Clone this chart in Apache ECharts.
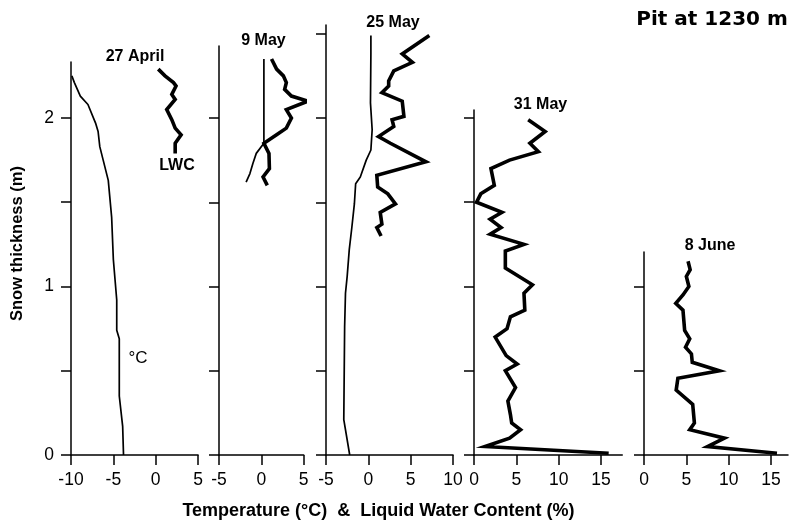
<!DOCTYPE html>
<html><head><meta charset="utf-8">
<script src="https://cdn.jsdelivr.net/npm/echarts@6/dist/echarts.min.js"></script>
<style>html,body{margin:0;padding:0;background:#fff}#c{width:790px;height:520px}</style>
</head><body><div id="c"></div>
<script>
// ---- DATA: [value, snow depth (m)] ----
const apr27Temp = [[-9.9,2.25],[-9.6,2.21],[-8.9,2.13],[-8.0,2.08],[-7.1,1.97],[-6.8,1.92],[-6.6,1.83],[-6.2,1.75],[-5.6,1.63],[-5.2,1.41],[-5.0,1.16],[-4.8,1.04],[-4.6,0.92],[-4.6,0.74],[-4.3,0.69],[-4.3,0.35],[-3.9,0.17],[-3.8,0]];
const apr27LWC = [[0.3,2.29],[1.1,2.25],[2.1,2.21],[2.4,2.19],[1.9,2.14],[2.3,2.11],[1.3,2.05],[1.9,1.99],[2.3,1.94],[3.0,1.90],[2.3,1.85],[2.3,1.79]];
const may9Temp = [[0.3,2.35],[0.3,1.85],[-0.6,1.79],[-1.0,1.73],[-1.35,1.67],[-1.8,1.62]];
const may9LWC = [[1.2,2.35],[1.8,2.29],[2.6,2.25],[2.95,2.21],[2.75,2.17],[3.55,2.13],[5.5,2.10],[2.95,2.05],[3.55,2.00],[2.95,1.94],[1.8,1.90],[0.3,1.85],[0.9,1.79],[0.95,1.70],[0.2,1.65],[0.7,1.60]];
const may25Temp = [[0.3,2.49],[0.3,2.38],[0.25,2.09],[0.45,1.93],[0.3,1.81],[-0.25,1.75],[-0.95,1.65],[-1.5,1.61],[-1.65,1.49],[-1.95,1.35],[-2.25,1.22],[-2.5,1.06],[-2.7,0.96],[-2.8,0.76],[-2.9,0.21],[-2.2,0]];
const may25LWC = [[7.2,2.49],[4.0,2.38],[5.2,2.33],[3.0,2.28],[2.4,2.22],[2.4,2.19],[1.6,2.15],[4.0,2.10],[4.2,2.01],[2.8,1.99],[3.0,1.95],[1.2,1.89],[2.6,1.85],[6.8,1.74],[1.0,1.66],[1.1,1.59],[2.3,1.55],[3.2,1.49],[1.4,1.44],[1.6,1.37],[1.0,1.35],[1.5,1.30]];
const may31LWC = [[6.4,1.99],[8.4,1.92],[6.6,1.85],[7.6,1.80],[4.2,1.75],[2.0,1.70],[2.4,1.60],[0.8,1.55],[0.3,1.50],[3.3,1.44],[1.9,1.40],[3.2,1.35],[1.9,1.31],[5.9,1.25],[3.7,1.21],[3.7,1.11],[6.9,1.01],[5.9,0.96],[6.0,0.86],[4.3,0.82],[3.9,0.75],[2.5,0.70],[3.8,0.59],[5.1,0.54],[3.7,0.50],[4.9,0.40],[4.0,0.32],[4.3,0.24],[4.45,0.19],[5.5,0.15],[4.2,0.10],[1.3,0.05],[15.9,0.01]];
const jun8LWC = [[5.2,1.15],[5.45,1.10],[5.0,1.06],[5.3,1.00],[4.6,0.95],[3.75,0.90],[4.6,0.86],[4.8,0.74],[5.4,0.69],[4.9,0.64],[5.6,0.60],[5.7,0.55],[8.9,0.50],[4.0,0.455],[3.8,0.385],[5.75,0.30],[5.95,0.19],[5.4,0.15],[9.5,0.10],[7.5,0.05],[15.7,0.01]];

const panelNames = ['27 April','9 May','25 May','31 May','8 June'];
const tempSeries = [apr27Temp, may9Temp, may25Temp, null, null];
const lwcSeries = [apr27LWC, may9LWC, may25LWC, may31LWC, jun8LWC];
const xMinValues = [-10,-5,-5,0,0];
const xMaxValues = [5,5,10,17.5,17];
const xTickValues = [[-10,-5,0,5],[-5,0,5],[-5,0,5,10],[0,5,10,15],[0,5,10,15]];
const yTickValues = [[0,0.5,1,1.5,2],[0,0.5,1,1.5,2],[0,0.5,1,1.5,2,2.5],[0,0.5,1,1.5,2],[0,0.5,1]];
const yLabelValues = [0,1,2];

// ---- LAYOUT ----
const BASE = 455, PX_PER_M = 168.5, PX_PER_UNIT = 8.47;
const gridLeft = [71,219,326,474,644];
const gridTop = [62,46,25,110,252];
const FONT = "'Liberation Sans', Arial, Helvetica, sans-serif";

const grids = [], xAxes = [], yAxes = [], series = [];
for (let i = 0; i < 5; i++) {
  const h = BASE - gridTop[i];
  grids.push({left: gridLeft[i], top: gridTop[i], width: (xMaxValues[i]-xMinValues[i])*PX_PER_UNIT, height: h, containLabel:false, outerBoundsMode:'none'});
  xAxes.push({type:'value', gridIndex:i, min:xMinValues[i], max:xMaxValues[i],
    axisLine:{show:true, onZero:false, lineStyle:{color:'#000', width:1.5}},
    axisTick:{show:true, inside:false, length:10, customValues:xTickValues[i], lineStyle:{color:'#000', width:1.5}},
    axisLabel:{show:true, customValues:xTickValues[i], margin:16, color:'#000', fontSize:17.5, fontFamily:FONT},
    splitLine:{show:false}});
  yAxes.push({type:'value', gridIndex:i, min:0, max:h/PX_PER_M,
    axisLine:{show:true, onZero:false, lineStyle:{color:'#000', width:1.5}},
    axisTick:{show:true, inside:false, length:10, customValues:yTickValues[i], lineStyle:{color:'#000', width:1.5}},
    axisLabel:{show:i===0, customValues:yLabelValues, margin:17, color:'#000', fontSize:17.5, fontFamily:FONT},
    splitLine:{show:false}});
  if (tempSeries[i]) series.push({type:'line', xAxisIndex:i, yAxisIndex:i, data:tempSeries[i], symbol:'none', clip:false, silent:true,
    lineStyle:{color:'#000', width:1.7, join:'round'}});
  series.push({type:'line', xAxisIndex:i, yAxisIndex:i, data:lwcSeries[i], symbol:'none', clip:false, silent:true,
    lineStyle:{color:'#000', width:3.6, join:'miter', miterLimit:6}});
}

function txt(text, x, y, size, weight, family, rot) {
  return {type:'text', x:x, y:y, rotation:rot||0, silent:true,
    style:{text:text, fill:'#000', fontSize:size, fontWeight:weight, fontFamily:family||FONT, align:'center', verticalAlign:'middle'}};
}
const labelPos = [[135,56.5],[263.5,40.5],[393,22.5],[540.5,105],[710,246]];
const graphics = panelNames.map((n,i) => txt(n, labelPos[i][0], labelPos[i][1], 16, 'bold'));
graphics.push(txt('LWC', 177, 166, 16, 'bold'));
graphics.push(txt('°C', 138, 358.5, 17, 'normal'));
graphics.push(txt('Pit at 1230 m', 712, 20, 20, 'bold', "'DejaVu Sans', sans-serif"));
graphics.push(txt('Snow thickness (m)', 17, 243.5, 16.5, 'bold', FONT, Math.PI/2));
graphics.push(txt('Temperature (°C)  &  Liquid Water Content (%)', 378.5, 511, 18, 'bold'));

const chart = echarts.init(document.getElementById('c'), null, {renderer:'canvas'});
chart.setOption({animation:false, backgroundColor:'#fff', grid:grids, xAxis:xAxes, yAxis:yAxes, series:series, graphic:graphics});
</script></body></html>
